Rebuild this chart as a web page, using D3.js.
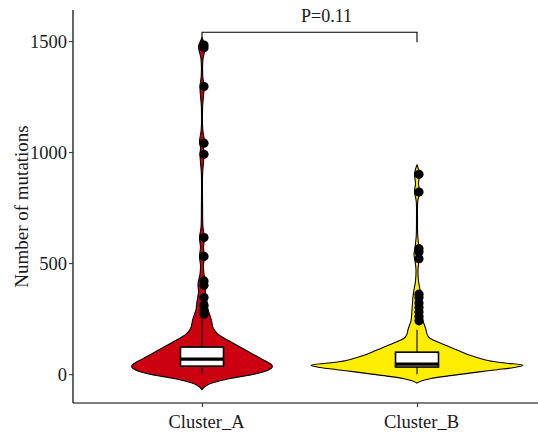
<!DOCTYPE html>
<html><head><meta charset="utf-8">
<script src="https://cdn.jsdelivr.net/npm/d3@7"></script>
<style>body{margin:0;background:#fff}svg{display:block}text{font-family:"Liberation Serif","Times New Roman",serif}</style>
</head><body><svg id="c" width="538" height="440"></svg>
<script>
const categories = ["Cluster_A", "Cluster_B"];
const colors = ["#CC0011", "#FFEE00"];
const yTicks = [0, 500, 1000, 1500];
// violin profiles: value and relative density
const densA_v = [-70,-60,-50,-40,-30,-20,-10,0,10,20,30,40,50,60,75,90,105,120,135,150,165,180,195,210,230,250,270,290,310,340,370,400,420,450,490,530,570,615,660,750,900,990,1020,1045,1100,1200,1295,1340,1420,1475,1500,1515];
const densA_d = [0,2,5,10,18,28,40,52,61,67,70,70,67,63,57,51,45,39,33,27,21,16,13,11,10,9,7.5,6,5.5,4.5,3.5,4,3.5,2,1.5,2.5,1.5,2.5,1,0.6,0.6,2,1.5,2.5,0.8,0.6,2,0.8,1,3.5,1.5,0].map(d=>d/106);
const densB_v = [-40,-30,-20,-10,0,10,20,30,40,50,60,75,90,105,120,135,150,165,180,200,220,240,260,290,320,350,380,420,470,510,540,570,620,700,780,820,860,900,930,942];
const densB_d = [0,5,14,28,45,62,80,97,106,88,72,60,50,42,34,26,18,12,10,9,7.5,6,5.5,5,4.5,4,3,1.5,1,2,3,2,0.8,0.5,0.8,2.5,1.5,2.5,1,0].map(d=>d/106);
// box stats: whisker low, Q1, median, Q3, whisker high
const boxA = [0, 36, 68, 122, 250];
const boxB = [0, 32, 45, 99, 200];
// outlier points
const pointsA = [1482, 1470, 1295, 1040, 990, 615, 530, 420, 400, 345, 310, 285, 270];
const pointsB = [900, 820, 565, 550, 520, 360, 345, 320, 300, 280, 260, 240];
const pLabel = "P=0.11";
const bracket = [1540, 1495, 1585]; // bar level, leg end, label baseline

const svg = d3.select("#c");
const y = d3.scaleLinear().domain([-130, 1640]).range([403, 10]);
const x = d3.scalePoint().domain(categories).range([73, 546]).padding(0.6);
const w = d3.scaleLinear().domain([0, 1]).range([0, 106]);

const profiles = [
  densA_v.map((v,i)=>({v, d:densA_d[i]})),
  densB_v.map((v,i)=>({v, d:densB_d[i]}))
];
const boxes = [boxA, boxB];
const points = [pointsA, pointsB];

categories.forEach((c, i) => {
  const cx = x(c);
  const area = d3.area().curve(d3.curveCatmullRom)
    .y(d => y(d.v)).x0(d => cx - w(d.d)).x1(d => cx + w(d.d));
  svg.append("path").attr("d", area(profiles[i]))
    .attr("fill", colors[i]).attr("stroke", "#000").attr("stroke-width", 1.1);
  const b = boxes[i];
  const bw = 43;
  svg.append("line").attr("x1", cx).attr("x2", cx).attr("y1", y(b[0])).attr("y2", y(b[1])).attr("stroke", "#000").attr("stroke-width", 1.1);
  svg.append("line").attr("x1", cx).attr("x2", cx).attr("y1", y(b[3])).attr("y2", y(b[4])).attr("stroke", "#000").attr("stroke-width", 1.1);
  svg.append("rect").attr("x", cx - bw/2).attr("width", bw)
    .attr("y", y(b[3])).attr("height", y(b[1]) - y(b[3]))
    .attr("fill", "#fff").attr("stroke", "#000").attr("stroke-width", 1.6);
  svg.append("line").attr("x1", cx - bw/2).attr("x2", cx + bw/2).attr("y1", y(b[2])).attr("y2", y(b[2])).attr("stroke", "#000").attr("stroke-width", 3.2);
  svg.selectAll(null).data(points[i]).enter().append("circle")
    .attr("cx", cx + 2).attr("cy", d => y(d)).attr("r", 4.6).attr("fill", "#000");
});

// axes
const gy = svg.append("g").attr("transform", "translate(73,0)")
  .call(d3.axisLeft(y).tickValues(yTicks).tickFormat(d3.format("d")).tickSize(4).tickPadding(2));
const gx = svg.append("g").attr("transform", "translate(0,403)")
  .call(d3.axisBottom(x).tickSize(4).tickPadding(8));
[gy, gx].forEach(g => {
  g.select(".domain").attr("stroke", "#000").attr("stroke-width", 1.2);
  g.selectAll(".tick line").attr("stroke", "#333").attr("stroke-width", 1.1);
  g.selectAll(".tick text").attr("fill", "#1a1a1a").attr("font-size", 18.5).attr("font-family", "Liberation Serif");
});
gx.selectAll(".tick text").attr("dx", 4);
gy.select(".domain").attr("d", "M0,403V10");
gx.select(".domain").attr("d", "M73,0H546");

svg.append("text").attr("transform", `translate(28,${(403+10)/2}) rotate(-90)`)
  .attr("text-anchor", "middle").attr("font-size", 19).attr("fill", "#1a1a1a")
  .text("Number of mutations");

// significance bracket
const xa = x(categories[0]), xb = x(categories[1]);
svg.append("path")
  .attr("d", `M${xa},${y(bracket[1])}V${y(bracket[0])}H${xb}V${y(bracket[1])}`)
  .attr("fill", "none").attr("stroke", "#000").attr("stroke-width", 1.1);
svg.append("text").attr("x", (xa + xb)/2 + 17).attr("y", y(bracket[2]))
  .attr("text-anchor", "middle").attr("font-size", 18).attr("fill", "#1a1a1a").text(pLabel);
</script></body></html>
